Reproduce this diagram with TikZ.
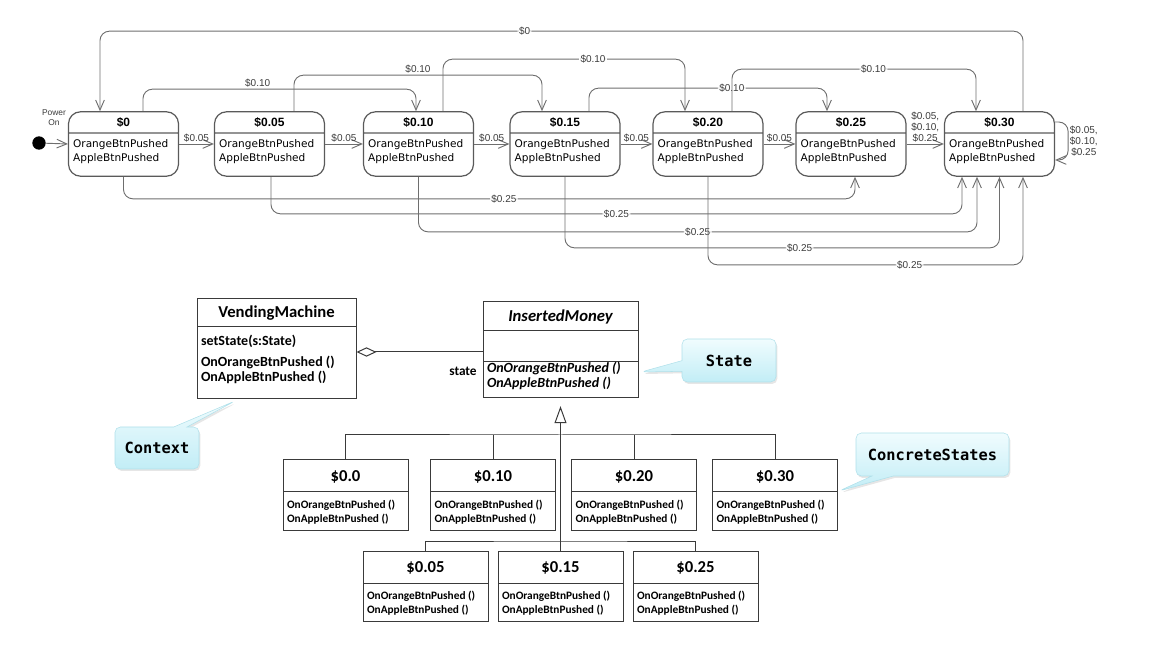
\documentclass[tikz,border=0pt]{standalone}
\usepackage{fontspec}
\setmainfont{Liberation Sans}
\newfontfamily\dejavu{DejaVu Sans}
\newfontfamily\carlito{Carlito}
\newfontfamily\consol{DejaVu Sans Mono}
\usepackage{xcolor}
\usepackage{tikz}
\usetikzlibrary{positioning,shapes.multipart,shapes.callouts,arrows.meta,calc,shadows}

\definecolor{stgray}{HTML}{5A5A5A}
\definecolor{edgegray}{HTML}{6E6E6E}
\definecolor{lblgray}{HTML}{3C3C3C}
\definecolor{clsgray}{HTML}{3A3A3A}
\definecolor{notetop}{HTML}{F0FCFE}
\definecolor{notebot}{HTML}{C2EDF6}
\definecolor{noteline}{HTML}{B0E0EA}

% strut: height above and depth below the baseline
\newcommand{\vsp}[2]{\rule[-#2]{0pt}{\dimexpr #1+#2\relax}}
\newcommand{\sttitle}[1]{{\normalfont\bfseries\fontsize{9}{10}\selectfont\vsp{10.5pt}{4.5pt}#1}}
\newcommand{\stbody}{\vsp{10.5pt}{0pt}OrangeBtnPushed\\AppleBtnPushed\vsp{0pt}{10.5pt}}
\newcommand{\clstitle}[1]{{\fontsize{12.5}{13}\selectfont\vsp{15.75pt}{7.5pt}#1}}
\newcommand{\clsbody}{\vsp{12pt}{0pt}OnOrangeBtnPushed ()\\OnAppleBtnPushed ()\vsp{0pt}{5.25pt}}

\begin{document}
\begin{tikzpicture}[
    x=0.75pt, y=-0.75pt,
    stnode/.style={rectangle split, rectangle split parts=2, rectangle split part align={center,left}, align=left,
        draw=stgray, line width=0.9pt, rounded corners=9pt, minimum width=82.5pt, inner xsep=3.5pt, inner ysep=0pt,
        font=\dejavu\fontsize{7.9}{10.5}\selectfont},
    trans/.style={->, draw=edgegray, line width=0.7pt, rounded corners=7pt},
    lbl/.style={font=\fontsize{7.5}{8.25}\selectfont, text=lblgray, inner sep=1pt},
    lblon/.style={lbl, fill=white},
    cls/.style={rectangle split, rectangle split parts=2, rectangle split part align={center,left}, align=left,
        draw=clsgray, line width=0.75pt, minimum width=93.75pt, inner xsep=3pt, inner ysep=0pt,
        font=\carlito\bfseries\fontsize{8.5}{10.5}\selectfont},
    tree/.style={draw=clsgray, line width=0.75pt},
    note/.style={rectangle callout, rounded corners=4pt, draw=noteline, top color=notetop, bottom color=notebot,
        drop shadow={opacity=0.2, shadow xshift=1pt, shadow yshift=-1.5pt}, inner sep=0pt,
        font=\consol\bfseries\fontsize{11.5}{12}\selectfont, callout pointer width=10pt},
    >={Straight Barb[length=7.5pt,width=6.5pt]}
]
\useasboundingbox (0,0) rectangle (1150,648);

% States
\node[circle, fill=black, minimum size=10pt, inner sep=0pt] (init) at (39,143) {};
\node[font=\fontsize{6.3}{7.5}\selectfont, text=lblgray, align=center] (pwr) at (54,118) {Power\\On};
\node[stnode] (s0) at (123.5,144) {\sttitle{\$0}\nodepart{two}\stbody};
\node[stnode] (s005) at (269.5,144) {\sttitle{\$0.05}\nodepart{two}\stbody};
\node[stnode] (s010) at (418.5,144) {\sttitle{\$0.10}\nodepart{two}\stbody};
\node[stnode] (s015) at (565,144) {\sttitle{\$0.15}\nodepart{two}\stbody};
\node[stnode] (s020) at (708,144) {\sttitle{\$0.20}\nodepart{two}\stbody};
\node[stnode] (s025) at (851,144) {\sttitle{\$0.25}\nodepart{two}\stbody};
\node[stnode] (s030) at (999.5,144) {\sttitle{\$0.30}\nodepart{two}\stbody};

% Coins of five cents
\draw[trans] (init) -- (s0.west);
\draw[trans] (s0.east) -- node[lbl, above] {\$0.05} (s005.west);
\draw[trans] (s005.east) -- node[lbl, above] {\$0.05} (s010.west);
\draw[trans] (s010.east) -- node[lbl, above] {\$0.05} (s015.west);
\draw[trans] (s015.east) -- node[lbl, above] {\$0.05} (s020.west);
\draw[trans] (s020.east) -- node[lbl, above] {\$0.05} (s025.west);
\draw[trans] (s025.east) -- node[lbl, above, align=center] {\$0.05,\\\$0.10,\\\$0.25} (s030.west);
\draw[trans] ($(s030.east)+(0,-22)$) -- ++(13,0) |- node[lbl, right, align=center, pos=0.25] {\$0.05,\\\$0.10,\\\$0.25} ($(s030.east)+(0,16)$);

% Coins of ten cents (above)
\draw[trans] ($(s0.north)+(19.5,0)$) -- ++(0,-22) -| node[lbl, above, pos=0.21] {\$0.10} ($(s010.north)+(-2.5,0)$);
\draw[trans] ($(s005.north)+(24.5,0)$) -- ++(0,-36) -| node[lbl, above, pos=0.25] {\$0.10} ($(s015.north)+(-23,0)$);
\draw[trans] ($(s010.north)+(24.5,0)$) -- ++(0,-52) -| node[lblon, pos=0.31] {\$0.10} ($(s020.north)+(-23,0)$);
\draw[trans] ($(s015.north)+(24,0)$) -- ++(0,-23) -| node[lblon, pos=0.3] {\$0.10} ($(s025.north)+(-24,0)$);
\draw[trans] ($(s020.north)+(24,0)$) -- ++(0,-42) -| node[lblon, pos=0.29] {\$0.10} ($(s030.north)+(-23.5,0)$);
\draw[trans] ($(s030.north)+(23.5,0)$) -- ++(0,-80) -| node[lblon, pos=0.27] {\$0} ($(s0.north)+(-23.5,0)$);

% Coins of 25 cents (below)
\draw[trans] (s0.south) -- ++(0,22) -| node[lblon, pos=0.26] {\$0.25} ($(s025.south)+(4,0)$);
\draw[trans] ($(s005.south)+(1.5,0)$) -- ++(0,37) -| node[lblon, pos=0.25] {\$0.25} ($(s030.south)+(-37.5,0)$);
\draw[trans] (s010.south) -- ++(0,55) -| node[lblon, pos=0.25] {\$0.25} ($(s030.south)+(-22.5,0)$);
\draw[trans] (s015.south) -- ++(0,71) -| node[lblon, pos=0.27] {\$0.25} (s030.south);
\draw[trans] (s020.south) -- ++(0,88) -| node[lblon, pos=0.32] {\$0.25} ($(s030.south)+(23.5,0)$);

% Classes
\node[cls, minimum width=119.25pt, font=\carlito\bfseries\fontsize{10.5}{11.25}\selectfont] (vm) at (276.5,349)
    {{\fontsize{12.5}{13}\selectfont\vsp{13.5pt}{6.75pt}VendingMachine}\nodepart{two}\vsp{13.5pt}{0pt}setState(s:State)\\[4.5pt]OnOrangeBtnPushed ()\\OnAppleBtnPushed ()\vsp{0pt}{12.75pt}};
\node[cls, rectangle split parts=3, rectangle split part align={center,left,left}, minimum width=116.25pt,
    font=\carlito\bfseries\itshape\fontsize{10.5}{11.25}\selectfont] (im) at (560.5,349.5)
    {{\fontsize{12.5}{13}\selectfont\vsp{15pt}{6pt}InsertedMoney}\nodepart{two}\vsp{22.5pt}{0pt}\nodepart{three}\vsp{7.5pt}{0pt}OnOrangeBtnPushed ()\\OnAppleBtnPushed ()\vsp{0pt}{7.5pt}};
\node[font=\carlito\bfseries\fontsize{10}{12}\selectfont] (role) at (463,371) {state};

\node[cls] (c00) at (345.5,495) {\clstitle{\$0.0}\nodepart{two}\clsbody};
\node[cls] (c010) at (493,495) {\clstitle{\$0.10}\nodepart{two}\clsbody};
\node[cls] (c020) at (634,495) {\clstitle{\$0.20}\nodepart{two}\clsbody};
\node[cls] (c030) at (775,495) {\clstitle{\$0.30}\nodepart{two}\clsbody};
\node[cls] (c005) at (425.5,586) {\clstitle{\$0.05}\nodepart{two}\clsbody};
\node[cls] (c015) at (560.5,586) {\clstitle{\$0.15}\nodepart{two}\clsbody};
\node[cls] (c025) at (695.5,586) {\clstitle{\$0.25}\nodepart{two}\clsbody};

% Association and inheritance
\draw[tree, {Diamond[open, length=15pt, width=7pt]}-] ($(vm.east)+(0,3)$) -- ($(im.west)+(0,2.5)$);
\coordinate (bar1) at (560.5,435);
\coordinate (bar2) at (560.5,541);
\draw[tree] (c00.north) |- (bar1) -| (c030.north);
\draw[tree] (c010.north) -- (c010.north |- bar1);
\draw[tree] (c020.north) -- (c020.north |- bar1);
\draw[tree] (c005.north) |- (bar2) -| (c025.north);
\draw[tree, -{Triangle[open, length=12.75pt, width=9pt]}] (c015.north) -- ($(im.south)+(0,8)$);

% Notes
\coordinate (ctxtip) at (235,401);
\coordinate (sttip) at (641,372);
\coordinate (cstip) at (839,491);
\node[note, minimum width=63pt, minimum height=31.5pt, callout absolute pointer={(ctxtip)}] (ctx) at (157,448) {Context};
\node[note, minimum width=70.5pt, minimum height=32.25pt, callout pointer width=8pt, callout absolute pointer={(sttip)}] (stn) at (729,360.5) {State};
\node[note, minimum width=114.75pt, minimum height=32.25pt, callout pointer width=16pt, callout absolute pointer={(cstip)}] (csn) at (932.5,454.5) {ConcreteStates};

\end{tikzpicture}
\end{document}
